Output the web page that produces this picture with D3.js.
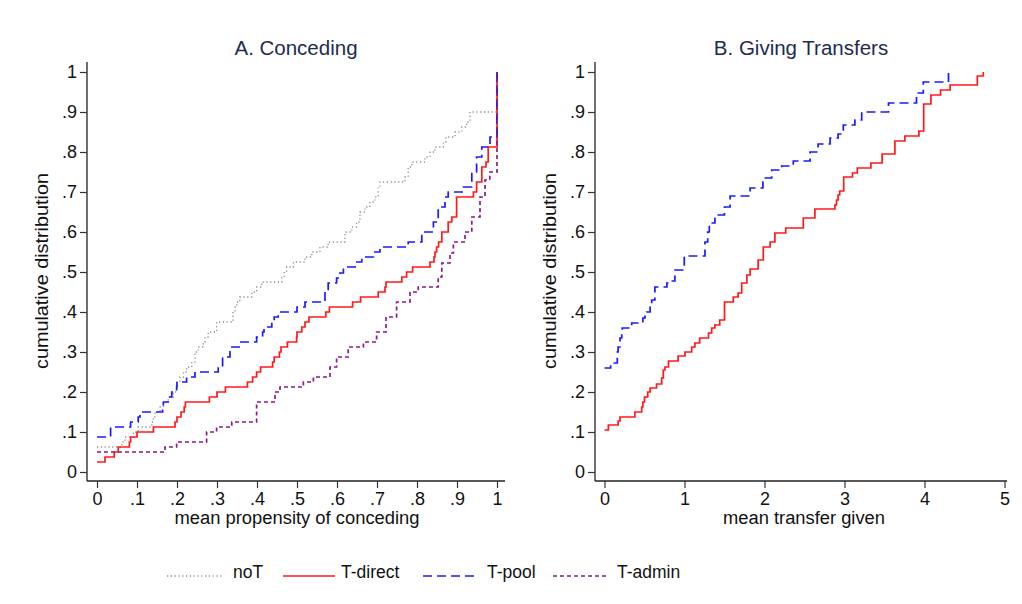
<!DOCTYPE html>
<html>
<head>
<meta charset="utf-8">
<script src="https://cdn.jsdelivr.net/npm/d3@7"></script>
<style>
  html, body { margin: 0; padding: 0; background: #fff; }
  svg { display: block; font-family: "Liberation Sans", Arial, Helvetica, sans-serif; }
</style>
</head>
<body>
<svg id="chart" width="1022" height="604"></svg>
<script>
// Empirical CDFs: each point is [value, cumulative share] where the step starts.

// Panel A: mean propensity of conceding
const concedeNoT = [
  [0,0.0625],[0.062,0.075],[0.07,0.0875],[0.091,0.10],[0.103,0.1125],[0.137,0.125],[0.141,0.1375],
  [0.145,0.15],[0.1575,0.1625],[0.166,0.175],[0.178,0.1875],[0.191,0.20],[0.199,0.225],[0.2075,0.2375],
  [0.216,0.25],[0.224,0.2625],[0.237,0.275],[0.245,0.30],[0.253,0.3125],[0.266,0.325],[0.27,0.3375],
  [0.278,0.35],[0.299,0.375],[0.34,0.40],[0.345,0.4125],[0.349,0.425],[0.357,0.4375],[0.387,0.45],
  [0.399,0.4625],[0.412,0.475],[0.462,0.4875],[0.468,0.50],[0.474,0.5125],[0.491,0.525],[0.52,0.5375],
  [0.537,0.55],[0.5575,0.5625],[0.578,0.575],[0.62,0.60],[0.637,0.6125],[0.649,0.625],[0.6575,0.65],
  [0.67,0.6625],[0.6825,0.675],[0.695,0.6875],[0.703,0.7125],[0.7075,0.725],[0.77,0.7375],[0.778,0.7625],
  [0.787,0.775],[0.82,0.7875],[0.8325,0.80],[0.845,0.8125],[0.866,0.825],[0.872,0.8375],[0.895,0.85],
  [0.912,0.8625],[0.924,0.875],[0.9325,0.90],[1,1]
];
const concedeDirect = [
  [0,0.025],[0.02,0.0375],[0.043,0.05],[0.053,0.0625],[0.081,0.075],[0.084,0.0875],[0.10,0.10],
  [0.141,0.1125],[0.195,0.125],[0.20,0.1375],[0.21,0.15],[0.218,0.1625],[0.221,0.175],[0.281,0.1875],
  [0.30,0.20],[0.321,0.2125],[0.376,0.225],[0.389,0.2375],[0.399,0.25],[0.409,0.2625],[0.439,0.275],
  [0.443,0.2875],[0.456,0.30],[0.46,0.3125],[0.476,0.325],[0.499,0.3375],[0.50,0.35],[0.512,0.3625],
  [0.52,0.375],[0.53,0.3875],[0.572,0.40],[0.581,0.4125],[0.639,0.425],[0.659,0.4375],[0.703,0.45],
  [0.72,0.4625],[0.7225,0.475],[0.762,0.4875],[0.774,0.50],[0.789,0.5125],[0.8325,0.525],[0.8425,0.5375],
  [0.845,0.55],[0.849,0.5625],[0.854,0.575],[0.862,0.60],[0.878,0.625],[0.887,0.6375],[0.899,0.6875],
  [0.941,0.70],[0.949,0.725],[0.962,0.7625],[0.9725,0.775],[0.978,0.8125],[1,1]
];
const concedePool = [
  [0,0.0875],[0.034,0.1125],[0.084,0.125],[0.103,0.1375],[0.1075,0.15],[0.164,0.1625],[0.166,0.175],
  [0.178,0.1875],[0.187,0.20],[0.199,0.2125],[0.20,0.225],[0.224,0.2375],[0.245,0.25],[0.303,0.2625],
  [0.314,0.2875],[0.3325,0.3125],[0.3575,0.325],[0.399,0.3375],[0.414,0.35],[0.4175,0.3625],[0.437,0.375],
  [0.443,0.3875],[0.453,0.40],[0.50,0.4125],[0.52,0.425],[0.57,0.45],[0.578,0.4725],[0.599,0.485],
  [0.6075,0.4975],[0.616,0.5125],[0.645,0.525],[0.662,0.5375],[0.691,0.55],[0.7075,0.5625],[0.778,0.575],
  [0.812,0.60],[0.841,0.625],[0.853,0.6625],[0.87,0.6875],[0.878,0.70],[0.916,0.7125],[0.937,0.75],
  [0.949,0.7875],[0.962,0.8125],[0.9825,0.8375],[1,1]
];
const concedeAdmin = [
  [0,0.05],[0.17,0.0625],[0.199,0.075],[0.274,0.10],[0.299,0.1125],[0.337,0.125],[0.399,0.175],
  [0.445,0.20],[0.4575,0.2125],[0.516,0.225],[0.541,0.2375],[0.5825,0.2625],[0.599,0.2875],[0.628,0.3125],
  [0.666,0.325],[0.699,0.35],[0.7225,0.3875],[0.749,0.425],[0.7825,0.45],[0.803,0.4625],[0.853,0.4875],
  [0.862,0.5225],[0.8825,0.5475],[0.891,0.575],[0.92,0.60],[0.937,0.6375],[0.9575,0.6875],[0.97,0.73],
  [0.982,0.75],[1,1]
];

// Panel B: mean transfer given
const transferDirect = [
  [0,0.105],[0.048,0.1175],[0.17,0.1275],[0.194,0.1375],[0.38,0.15],[0.465,0.1625],[0.48,0.175],
  [0.50,0.1875],[0.54,0.20],[0.57,0.21],[0.65,0.22],[0.715,0.235],[0.735,0.255],[0.756,0.2625],
  [0.80,0.2775],[0.92,0.29],[1.006,0.30],[1.09,0.3125],[1.13,0.3225],[1.19,0.335],[1.30,0.3475],
  [1.34,0.36],[1.38,0.3675],[1.44,0.38],[1.5,0.425],[1.61,0.4375],[1.67,0.4475],[1.715,0.4725],
  [1.78,0.4925],[1.82,0.5075],[1.92,0.53],[1.985,0.5625],[2.07,0.575],[2.13,0.5975],[2.265,0.61],
  [2.485,0.635],[2.63,0.6575],[2.88,0.6675],[2.90,0.68],[2.92,0.6925],[2.94,0.7025],[2.99,0.7375],
  [3.1,0.7475],[3.16,0.76],[3.33,0.7725],[3.47,0.795],[3.63,0.8275],[3.755,0.84],[3.93,0.8525],
  [3.99,0.92],[4.08,0.9425],[4.2,0.955],[4.32,0.9675],[4.66,0.99],[4.735,1.0]
];
const transferPool = [
  [0,0.26],[0.077,0.2725],[0.16,0.30],[0.17,0.3125],[0.194,0.335],[0.215,0.35],[0.222,0.36],
  [0.34,0.3725],[0.48,0.385],[0.506,0.3925],[0.527,0.40],[0.57,0.42],[0.59,0.43],[0.63,0.4625],
  [0.78,0.4725],[0.80,0.4775],[0.88,0.505],[0.997,0.54],[1.256,0.575],[1.29,0.60],[1.31,0.6225],
  [1.38,0.6425],[1.50,0.6625],[1.57,0.69],[1.82,0.71],[1.98,0.725],[2.0,0.735],[2.09,0.755],
  [2.215,0.765],[2.36,0.7775],[2.57,0.80],[2.67,0.82],[2.82,0.835],[2.92,0.845],[2.985,0.8675],
  [3.13,0.88],[3.215,0.90],[3.55,0.9225],[3.9,0.9475],[3.985,0.975],[4.3,1.0]
];

// Axis ticks
const concedeTicks = [0,0.1,0.2,0.3,0.4,0.5,0.6,0.7,0.8,0.9,1];
const transferTicks = [0,1,2,3,4,5];
const cdfTicks = [0,0.1,0.2,0.3,0.4,0.5,0.6,0.7,0.8,0.9,1];

// Series styling
const seriesStyle = {
  noT:       { label: "noT",      color: "#8c8c8c", width: 1.3, dash: "1.2,2.6" },
  "T-direct":{ label: "T-direct", color: "#ff1a1a", width: 1.7, dash: null },
  "T-pool":  { label: "T-pool",   color: "#1a1aff", width: 1.7, dash: "9,5" },
  "T-admin": { label: "T-admin",  color: "#8b1a8b", width: 1.7, dash: "4,3" }
};

const fmtShare = v => v === 0 ? "0" : v === 1 ? "1" : d3.format(".1f")(v).replace(/^0/, "");

const svg = d3.select("#chart");
svg.append("rect").attr("width", 1022).attr("height", 604).attr("fill", "#fff");

function panel(opts) {
  const g = svg.append("g");
  const x = d3.scaleLinear().domain(opts.xDomain).range(opts.xRange);
  const y = d3.scaleLinear().domain([0, 1]).range([472, 72]);

  // axes
  const xAxis = d3.axisBottom(x).tickValues(opts.xTicks).tickFormat(opts.xFmt).tickSize(7).tickPadding(4);
  const yAxis = d3.axisLeft(y).tickValues(cdfTicks).tickFormat(fmtShare).tickSize(7).tickPadding(3);

  const gx = g.append("g").attr("transform", "translate(0,481)").call(xAxis);
  gx.select(".domain").attr("d", `M${opts.frameLeft},0H${opts.frameRight}`);
  const gy = g.append("g").attr("transform", `translate(${opts.frameLeft},0)`).call(yAxis);
  gy.select(".domain").attr("d", `M0,481V62`);

  [gx, gy].forEach(a => {
    a.selectAll(".domain").attr("stroke", "#222").attr("stroke-width", 1.3);
    a.selectAll(".tick line").attr("stroke", "#333").attr("stroke-width", 1.2);
    a.selectAll(".tick text").attr("font-size", 18).attr("fill", "#111")
      .attr("font-family", "Liberation Sans, Arial, sans-serif");
  });
  gx.selectAll(".tick text").attr("dy", "0.72em");

  // series lines
  const line = d3.line().x(d => x(d[0])).y(d => y(d[1])).curve(d3.curveStepAfter);
  opts.series.forEach(s => {
    const st = seriesStyle[s.key];
    g.append("path").datum(s.data)
      .attr("d", line)
      .attr("fill", "none")
      .attr("stroke", st.color)
      .attr("stroke-width", st.width)
      .attr("stroke-dasharray", st.dash)
      .attr("stroke-linejoin", "miter");
  });

  // titles
  g.append("text").attr("x", (opts.frameLeft + opts.frameRight) / 2).attr("y", 55)
    .attr("text-anchor", "middle").attr("font-size", 20.5).attr("fill", "#1c2b52")
    .text(opts.title);
  g.append("text").attr("x", opts.xTitleX).attr("y", 524)
    .attr("text-anchor", "middle").attr("font-size", 18).attr("fill", "#111")
    .attr("textLength", opts.xTitleLen).attr("lengthAdjust", "spacingAndGlyphs")
    .text(opts.xTitle);
  g.append("text")
    .attr("transform", `translate(${opts.yTitleX},${271}) rotate(-90)`)
    .attr("text-anchor", "middle").attr("font-size", 18.5).attr("fill", "#111")
    .attr("textLength", 196).attr("lengthAdjust", "spacingAndGlyphs")
    .text("cumulative distribution");
}

panel({
  title: "A. Conceding",
  xDomain: [0, 1], xRange: [97, 497], frameLeft: 87, frameRight: 505,
  xTicks: concedeTicks, xFmt: fmtShare,
  xTitle: "mean propensity of conceding", xTitleX: 297, xTitleLen: 245,
  yTitleX: 48,
  series: [
    { key: "noT", data: concedeNoT },
    { key: "T-direct", data: concedeDirect },
    { key: "T-pool", data: concedePool },
    { key: "T-admin", data: concedeAdmin }
  ]
});

panel({
  title: "B. Giving Transfers",
  xDomain: [0, 5], xRange: [604.5, 1004.5], frameLeft: 595, frameRight: 1007,
  xTicks: transferTicks, xFmt: d3.format("d"),
  xTitle: "mean transfer given", xTitleX: 804, xTitleLen: 162,
  yTitleX: 556,
  series: [
    { key: "T-direct", data: transferDirect },
    { key: "T-pool", data: transferPool }
  ]
});

// legend
const legendItems = [
  { key: "noT", x0: 167, x1: 223, tx: 233 },
  { key: "T-direct", x0: 283, x1: 335, tx: 341 },
  { key: "T-pool", x0: 423, x1: 478, tx: 487 },
  { key: "T-admin", x0: 553, x1: 608, tx: 617 }
];
const lg = svg.append("g");
legendItems.forEach(it => {
  const st = seriesStyle[it.key];
  lg.append("line").attr("x1", it.x0).attr("x2", it.x1).attr("y1", 576).attr("y2", 576)
    .attr("stroke", st.color).attr("stroke-width", st.width).attr("stroke-dasharray", st.dash);
  lg.append("text").attr("x", it.tx).attr("y", 578).attr("font-size", 17.5).attr("fill", "#111")
    .text(st.label);
});
</script>
</body>
</html>
